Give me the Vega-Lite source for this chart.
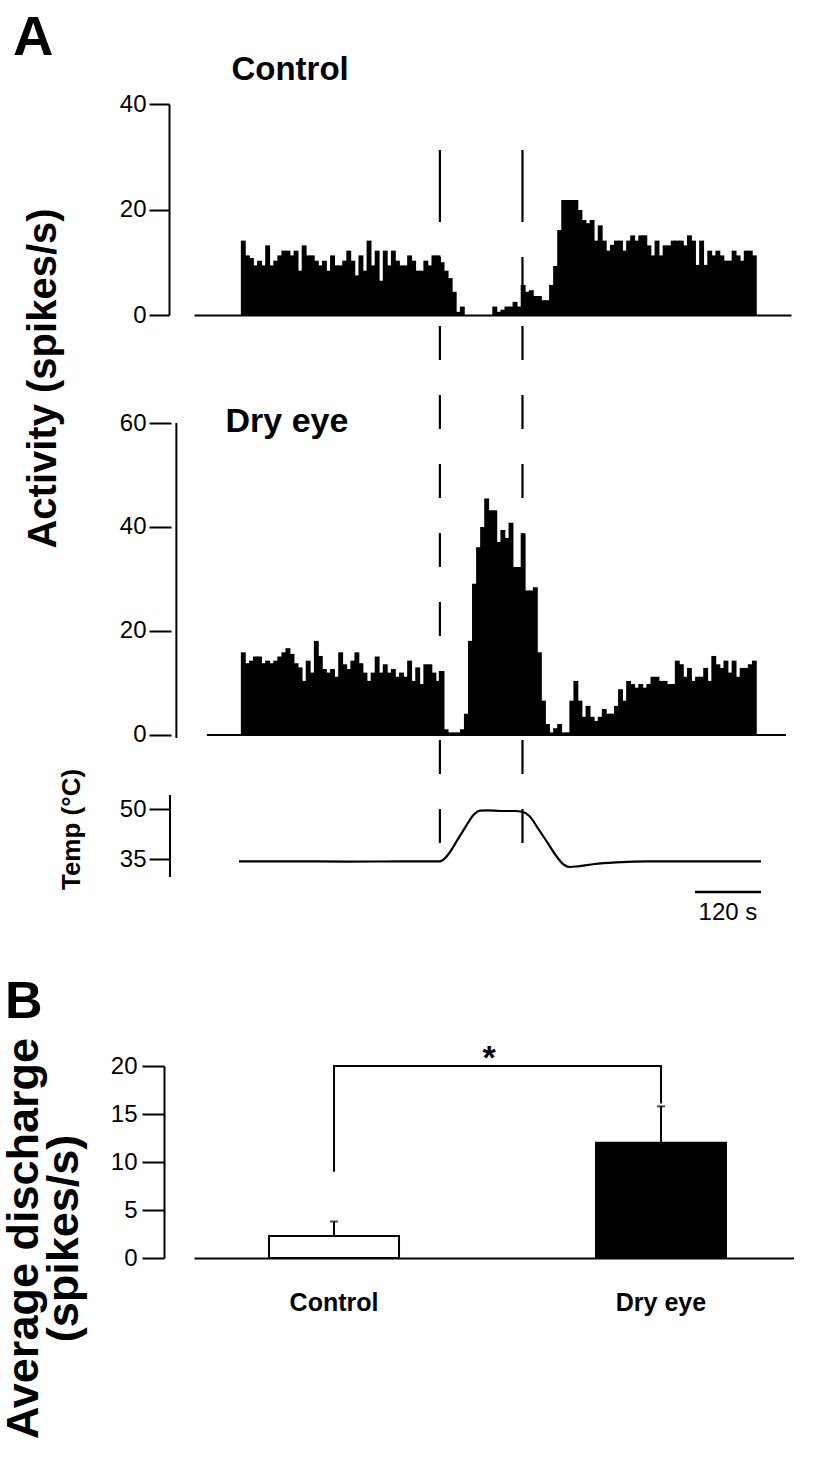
{
  "$schema": "https://vega.github.io/schema/vega-lite/v6.json",
  "padding": {"left": 1, "top": 10, "right": 0, "bottom": 0},
  "autosize": {"type": "pad"},
  "background": "white",
  "bounds": "flush",
  "spacing": 0,
  "config": {
    "font": "Liberation Sans",
    "view": {"stroke": null},
    "axis": {"domainColor": "black", "tickColor": "black", "labelColor": "black", "titleColor": "black", "labelFont": "Liberation Sans", "titleFont": "Liberation Sans", "grid": false, "labelFontSize": 24}
  },
  "datasets": {
    "hist": [
      {"t":3.75,"c":14.1,"d":15.9},{"t":11.25,"c":11.3,"d":13.8},{"t":18.75,"c":10.8,"d":14.3},{"t":26.25,"c":9.4,"d":15.1},
      {"t":33.75,"c":10.3,"d":15.1},{"t":41.25,"c":9.4,"d":13.8},{"t":48.75,"c":13.2,"d":14.3},{"t":56.25,"c":9.4,"d":13.8},
      {"t":63.75,"c":10.3,"d":14.3},{"t":71.25,"c":11.3,"d":15.1},{"t":78.75,"c":12.2,"d":15.9},{"t":86.25,"c":12.2,"d":16.7},
      {"t":93.75,"c":11.3,"d":15.6},{"t":101.25,"c":12.2,"d":13.8},{"t":108.75,"c":8.4,"d":13},{"t":116.25,"c":13.2,"d":10.4},
      {"t":123.75,"c":11.3,"d":14.3},{"t":131.25,"c":11.3,"d":12},{"t":138.75,"c":10.3,"d":18.1},{"t":146.25,"c":9.4,"d":15.2},
      {"t":153.75,"c":10.3,"d":12.7},{"t":161.25,"c":8.4,"d":12},{"t":168.75,"c":11.3,"d":12.7},{"t":176.25,"c":9.4,"d":11.2},
      {"t":183.75,"c":9.4,"d":15.9},{"t":191.25,"c":10.3,"d":13.6},{"t":198.75,"c":12.2,"d":12.7},{"t":206.25,"c":10.3,"d":14.3},
      {"t":213.75,"c":7.5,"d":15.9},{"t":221.25,"c":11.3,"d":13.8},{"t":228.75,"c":8.4,"d":12},{"t":236.25,"c":14.1,"d":10.4},
      {"t":243.75,"c":9.4,"d":12},{"t":251.25,"c":12.2,"d":15.1},{"t":258.75,"c":6.5,"d":12},{"t":266.25,"c":12.2,"d":13.6},
      {"t":273.75,"c":9.4,"d":12},{"t":281.25,"c":12.2,"d":12.7},{"t":288.75,"c":10.3,"d":11.2},{"t":296.25,"c":9.4,"d":12},
      {"t":303.75,"c":9.4,"d":11.2},{"t":311.25,"c":11.3,"d":14.3},{"t":318.75,"c":10.3,"d":10.4},{"t":326.25,"c":8.4,"d":13},
      {"t":333.75,"c":8.4,"d":9.8},{"t":341.25,"c":10.3,"d":13.6},{"t":348.75,"c":9.4,"d":13.6},{"t":356.25,"c":11.3,"d":12},
      {"t":363.75,"c":11.3,"d":10.4},{"t":371.25,"c":10.0,"d":12.3},{"t":378.75,"c":8.4,"d":1.1},{"t":386.25,"c":7.0,"d":0.5},
      {"t":393.75,"c":4.4,"d":0.5},{"t":401.25,"c":0.6,"d":0.5},{"t":408.75,"c":1.6,"d":1.1},{"t":416.25,"c":0,"d":4.1},
      {"t":423.75,"c":0,"d":18.1},{"t":431.25,"c":0,"d":29.1},{"t":438.75,"c":0,"d":36.1},{"t":446.25,"c":0,"d":40},
      {"t":453.75,"c":0,"d":45.5},{"t":461.25,"c":0,"d":43.2},{"t":468.75,"c":1.6,"d":43.2},{"t":476.25,"c":0.6,"d":37.1},
      {"t":483.75,"c":1.0,"d":39.4},{"t":491.25,"c":1.6,"d":37.9},{"t":498.75,"c":1.6,"d":40.8},{"t":506.25,"c":2.5,"d":32.3},
      {"t":513.75,"c":1.6,"d":32.3},{"t":521.25,"c":5.7,"d":38.8},{"t":528.75,"c":4.4,"d":27.8},{"t":536.25,"c":4.7,"d":27.8},
      {"t":543.75,"c":3.6,"d":28.4},{"t":551.25,"c":3.6,"d":15.9},{"t":558.75,"c":2.8,"d":6.6},{"t":566.25,"c":2.8,"d":2.1},
      {"t":573.75,"c":5.7,"d":0.5},{"t":581.25,"c":9.3,"d":1.3},{"t":588.75,"c":16.1,"d":2.1},{"t":596.25,"c":21.8,"d":0.5},
      {"t":603.75,"c":21.8,"d":0.5},{"t":611.25,"c":21.8,"d":6.6},{"t":618.75,"c":21.8,"d":10.4},{"t":626.25,"c":19.9,"d":6.6},
      {"t":633.75,"c":18,"d":3.5},{"t":641.25,"c":17.4,"d":5.6},{"t":648.75,"c":18,"d":3.5},{"t":656.25,"c":14.1,"d":2.7},
      {"t":663.75,"c":17,"d":3.5},{"t":671.25,"c":14.1,"d":5.0},{"t":678.75,"c":12.2,"d":4.1},{"t":686.25,"c":13.3,"d":4.1},
      {"t":693.75,"c":14.1,"d":5.6},{"t":701.25,"c":14.1,"d":8.8},{"t":708.75,"c":12.2,"d":6.6},{"t":716.25,"c":14.1,"d":10.4},
      {"t":723.75,"c":15.1,"d":9.8},{"t":731.25,"c":14.1,"d":9.1},{"t":738.75,"c":15.1,"d":9.8},{"t":746.25,"c":15.1,"d":9.1},
      {"t":753.75,"c":13.2,"d":9.8},{"t":761.25,"c":11.3,"d":11.2},{"t":768.75,"c":14.1,"d":11.2},{"t":776.25,"c":11.3,"d":10.4},
      {"t":783.75,"c":13.2,"d":10.4},{"t":791.25,"c":13.2,"d":9.8},{"t":798.75,"c":14.1,"d":9.8},{"t":806.25,"c":14.1,"d":14.3},
      {"t":813.75,"c":14.1,"d":13.6},{"t":821.25,"c":13.2,"d":11.2},{"t":828.75,"c":15.1,"d":12.9},{"t":836.25,"c":14.1,"d":10.4},
      {"t":843.75,"c":9.5,"d":11.2},{"t":851.25,"c":14.1,"d":11.2},{"t":858.75,"c":9.5,"d":12.9},{"t":866.25,"c":12.2,"d":10.4},
      {"t":873.75,"c":11.3,"d":15.2},{"t":881.25,"c":12.2,"d":13.6},{"t":888.75,"c":11.3,"d":12.9},{"t":896.25,"c":10.3,"d":14.3},
      {"t":903.75,"c":10.3,"d":12},{"t":911.25,"c":12.2,"d":14.3},{"t":918.75,"c":11.3,"d":11.2},{"t":926.25,"c":10.3,"d":12.9},
      {"t":933.75,"c":12.2,"d":12.9},{"t":941.25,"c":12.2,"d":13.6},{"t":948.75,"c":11.3,"d":14.3}
    ],
    "stim": [{"t": 367.3}, {"t": 520}],
    "temp": [
      {"t":3.6,"temp":34.3},{"t":100,"temp":34.3},{"t":200,"temp":34.2},{"t":300,"temp":34.3},{"t":369,"temp":34.3},
      {"t":376,"temp":34.9},{"t":386,"temp":36.8},{"t":400,"temp":40.5},{"t":415,"temp":44.5},{"t":430,"temp":48.2},
      {"t":442,"temp":49.5},{"t":455,"temp":49.6},{"t":480,"temp":49.4},{"t":505,"temp":49.4},{"t":520,"temp":49.1},
      {"t":532,"temp":47.8},{"t":548,"temp":44},{"t":565,"temp":39.8},{"t":580,"temp":36},{"t":595,"temp":33.2},
      {"t":605,"temp":32.6},{"t":620,"temp":32.8},{"t":650,"temp":33.5},{"t":690,"temp":34},{"t":750,"temp":34.3},
      {"t":850,"temp":34.3},{"t":952.7,"temp":34.3}
    ],
    "summary": [
      {"group": "Control", "mean": 2.3, "upper": 3.8},
      {"group": "Dry eye", "mean": 12, "upper": 15.8}
    ],
    "bracket": [
      {"g": "Control", "v": 9.1, "o": 1},
      {"g": "Control", "v": 20, "o": 2},
      {"g": "Dry eye", "v": 20, "o": 3},
      {"g": "Dry eye", "v": 16.2, "o": 4}
    ]
  },
  "vconcat": [
    {
      "width": 597,
      "height": 211,
      "layer": [
        {
          "data": {"name": "hist"},
          "mark": {"type": "bar", "color": "black", "width": 4.9},
          "encoding": {
            "x": {"field": "t", "type": "quantitative", "scale": {"domain": [-78.18, 1007.3], "nice": false},
                  "axis": {"orient": "bottom", "domain": true, "domainWidth": 2, "ticks": false, "tickSize": 0, "labels": false, "title": null}},
            "y": {"field": "c", "type": "quantitative", "scale": {"domain": [0, 40], "nice": false},
                  "axis": {"values": [0, 20, 40], "offset": 25, "domainWidth": 2, "tickSize": 20, "tickWidth": 2, "labelPadding": 3,
                           "title": "Activity (spikes/s)", "titleFontSize": 40, "titleFontWeight": "bold", "titleAngle": 270,
                           "titleAlign": "center", "titleBaseline": "middle", "titleX": -126, "titleY": 274}},
            "y2": {"datum": 0}
          }
        },
        {
          "data": {"values": [{"label": "Control"}]},
          "mark": {"type": "text", "fontSize": 33, "fontWeight": "bold", "align": "left", "baseline": "middle", "color": "black"},
          "encoding": {"text": {"field": "label", "type": "nominal"}, "x": {"datum": -18.2}, "y": {"datum": 46.45}}
        },
        {
          "data": {"values": [{"label": "A"}]},
          "mark": {"type": "text", "fontSize": 56, "fontWeight": "bold", "align": "left", "baseline": "middle", "color": "black"},
          "encoding": {"text": {"field": "label", "type": "nominal"}, "x": {"datum": -421.9}, "y": {"datum": 52.5}}
        }
      ]
    },
    {
      "width": 597,
      "height": 480,
      "layer": [
        {
          "data": {"name": "hist"},
          "mark": {"type": "bar", "color": "black", "width": 4.9},
          "encoding": {
            "x": {"field": "t", "type": "quantitative", "scale": {"domain": [-78.18, 1007.3], "nice": false}, "axis": null},
            "y": {"field": "d", "type": "quantitative", "scale": {"domain": [-11.54, 80.77], "nice": false},
                  "axis": {"values": [0, 20, 40, 60], "offset": 23, "domain": false, "tickSize": 22, "tickWidth": 2, "labelPadding": 3, "title": null}},
            "y2": {"datum": 0}
          }
        },
        {
          "data": {"values": [{}]},
          "mark": {"type": "rule", "color": "black", "strokeWidth": 2},
          "encoding": {"x": {"datum": -120}, "y": {"datum": -0.58}, "y2": {"datum": 60}}
        },
        {
          "data": {"values": [{}]},
          "mark": {"type": "rule", "color": "black", "strokeWidth": 2},
          "encoding": {"x": {"datum": -63.6}, "x2": {"datum": 1007.3}, "y": {"datum": 0}}
        },
        {
          "data": {"name": "stim"},
          "mark": {"type": "rule", "color": "black", "strokeWidth": 2.2, "strokeDash": [72, 35, 34, 35, 34, 35, 34, 35, 34, 35, 34, 35, 34, 35, 34, 35, 34, 35, 34, 35]},
          "encoding": {"x": {"field": "t", "type": "quantitative"}, "y": {"datum": 112.5}, "y2": {"datum": -20.77}}
        },
        {
          "data": {"values": [{"label": "Dry eye"}]},
          "mark": {"type": "text", "fontSize": 34, "fontWeight": "bold", "align": "left", "baseline": "middle", "color": "black"},
          "encoding": {"text": {"field": "label", "type": "nominal"}, "x": {"datum": -29.1}, "y": {"datum": 60.2}}
        }
      ]
    },
    {
      "width": 597,
      "height": 271,
      "layer": [
        {
          "data": {"name": "temp"},
          "mark": {"type": "line", "color": "black", "strokeWidth": 2.2, "interpolate": "monotone"},
          "encoding": {
            "x": {"field": "t", "type": "quantitative", "scale": {"domain": [-78.18, 1007.3], "nice": false}, "axis": null},
            "y": {"field": "temp", "type": "quantitative", "scale": {"domain": [-27.1, 54.2], "nice": false},
                  "axis": {"values": [35, 50], "offset": 24, "domain": false, "tickSize": 21, "tickWidth": 2, "labelPadding": 3,
                           "title": "Temp (°C)", "titleFontSize": 26, "titleFontWeight": "bold", "titleAngle": 270,
                           "titleAlign": "center", "titleBaseline": "middle", "titleX": -99, "titleY": 34}}
          }
        },
        {
          "data": {"values": [{}]},
          "mark": {"type": "rule", "color": "black", "strokeWidth": 2},
          "encoding": {"x": {"datum": -121.8}, "y": {"datum": 29.6}, "y2": {"datum": 54.2}}
        },
        {
          "data": {"values": [{}]},
          "mark": {"type": "rule", "color": "black", "strokeWidth": 2.5},
          "encoding": {"x": {"datum": 832.7}, "x2": {"datum": 952.7}, "y": {"datum": 25.1}}
        },
        {
          "data": {"values": [{"label": "120 s"}]},
          "mark": {"type": "text", "fontSize": 24, "align": "center", "baseline": "middle", "color": "black"},
          "encoding": {"text": {"field": "label", "type": "nominal"}, "x": {"datum": 892.7}, "y": {"datum": 18.8}}
        },
        {
          "data": {"values": [{"label": "B"}]},
          "mark": {"type": "text", "fontSize": 52, "fontWeight": "bold", "align": "left", "baseline": "middle", "color": "black"},
          "encoding": {"text": {"field": "label", "type": "nominal"}, "x": {"datum": -421.8}, "y": {"datum": -7.9}}
        },
        {
          "data": {"values": [{"label": "*"}]},
          "mark": {"type": "text", "fontSize": 34, "fontWeight": "bold", "align": "center", "baseline": "alphabetic", "color": "black"},
          "encoding": {"text": {"field": "label", "type": "nominal"}, "x": {"datum": 458.2}, "y": {"datum": -28.0}}
        }
      ]
    },
    {
      "width": 600,
      "height": 192,
      "layer": [
        {
          "data": {"name": "summary"},
          "mark": {"type": "bar", "stroke": "black", "strokeWidth": 2},
          "encoding": {
            "x": {"field": "group", "type": "nominal", "sort": ["Control", "Dry eye"],
                  "scale": {"paddingInner": 0.6024, "paddingOuter": 0.2187, "align": 0.5245},
                  "axis": {"title": null, "domain": true, "domainWidth": 2, "ticks": false, "tickSize": 0, "labelAngle": 0,
                           "labelFontSize": 25, "labelFontWeight": "bold", "labelPadding": 32}},
            "y": {"field": "mean", "type": "quantitative", "scale": {"domain": [0, 20], "nice": false},
                  "axis": {"values": [0, 5, 10, 15, 20], "offset": 30, "domainWidth": 2, "tickSize": 22, "tickWidth": 2, "labelPadding": 5,
                           "title": ["Average discharge", "(spikes/s)"], "titleFontSize": 45, "titleFontWeight": "bold", "titleAngle": 270,
                           "titleAlign": "center", "titleBaseline": "middle", "titleLineHeight": 40, "titleX": -141, "titleY": 172}},
            "fill": {"field": "group", "type": "nominal", "scale": {"domain": ["Control", "Dry eye"], "range": ["white", "black"]}, "legend": null}
          }
        },
        {
          "data": {"name": "summary"},
          "mark": {"type": "rule", "color": "black", "strokeWidth": 2},
          "encoding": {
            "x": {"field": "group", "type": "nominal"},
            "y": {"field": "mean", "type": "quantitative"},
            "y2": {"field": "upper"}
          }
        },
        {
          "data": {"name": "summary"},
          "mark": {"type": "tick", "color": "black", "thickness": 2, "size": 8, "orient": "horizontal"},
          "encoding": {
            "x": {"field": "group", "type": "nominal"},
            "y": {"field": "upper", "type": "quantitative"}
          }
        },
        {
          "data": {"name": "bracket"},
          "mark": {"type": "line", "color": "black", "strokeWidth": 2, "strokeJoin": "miter", "strokeCap": "square"},
          "encoding": {
            "x": {"field": "g", "type": "nominal"},
            "y": {"field": "v", "type": "quantitative"},
            "order": {"field": "o", "type": "quantitative"}
          }
        }
      ]
    }
  ]
}
